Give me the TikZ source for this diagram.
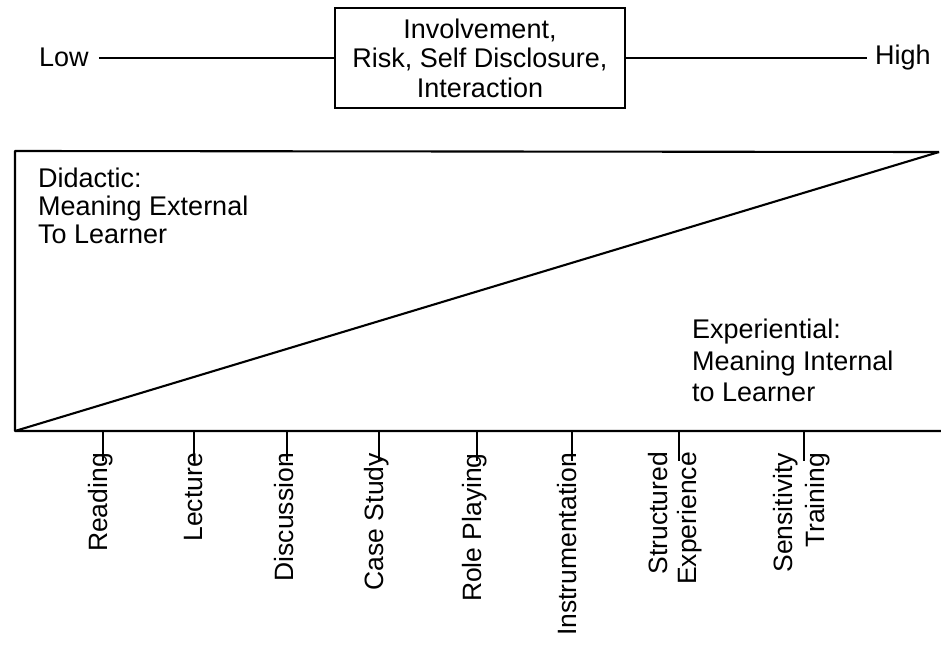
\documentclass[tikz,border=0pt]{standalone}
\usepackage{fontspec}
\setmainfont{Liberation Sans}
\begin{document}
\begin{tikzpicture}[x=1pt,y=-1pt,
  txt/.style={font=\fontsize{27}{29.5}\selectfont, inner sep=0pt},
  blocktxt/.style={font=\fontsize{27}{28}\selectfont, inner sep=0pt, align=left, anchor=north west},
  lbl/.style={font=\fontsize{26.5}{30}\selectfont, inner sep=0pt, rotate=90, anchor=base east},
  lbltwo/.style={font=\fontsize{26.5}{30}\selectfont, inner sep=0pt, rotate=90, anchor=east, align=right},
  heavy/.style={line width=2.1pt, line join=round},
  thin/.style={line width=1.6pt},
  tickline/.style={line width=1.6pt}]
\useasboundingbox (0,0) rectangle (941,655);

% scale of involvement across the top
\node[txt, draw, thin, minimum width=290pt, minimum height=100pt, align=center] (scale) at (480,58)
  {Involvement,\\Risk, Self Disclosure,\\Interaction};
\node[txt, anchor=base west] (low) at (39,67) {Low};
\node[txt, anchor=base west] (high) at (875,65) {High};
\draw[heavy] (low.east |- scale.west) ++(10,0) -- (scale.west);
\draw[heavy] (scale.east) -- ([xshift=-8pt]high.west |- scale.east);

% wedge between didactic and experiential
\coordinate (origin) at (15,431);
\coordinate (topleft) at (15,151);
\coordinate (tip) at (939,152);
\coordinate (axisend) at (941,431);
\draw[heavy] (tip) -- (topleft) -- (origin) -- (axisend);
\draw[heavy] (origin) -- (tip);

\node[blocktxt] (didactic) at (38,168) {Didactic:\\Meaning External\\To Learner};
\node[blocktxt, font=\fontsize{27}{31.5}\selectfont] (experiential) at (692,319)
  {Experiential:\\Meaning Internal\\to Learner};

% methods along the axis
\foreach \n/\x in {1/103,2/194,3/287,4/379,5/477,6/572,7/679,8/804}{
  \coordinate (t\n) at (\x,461);
  \draw[tickline] (t\n |- origin) -- (t\n);
}
\node[lbl] (m1) at ([xshift=4pt,yshift=8pt]t1) {Reading};
\node[lbl] (m2) at ([xshift=8pt,yshift=8pt]t2) {Lecture};
\node[lbl] (m3) at ([xshift=6pt,yshift=8pt]t3) {Discussion};
\node[lbl] (m4) at ([xshift=4pt,yshift=8pt]t4) {Case Study};
\node[lbl] (m5) at ([xshift=4pt,yshift=8pt]t5) {Role Playing};
\node[lbl] (m6) at ([xshift=4pt,yshift=8pt]t6) {Instrumentation};
\node[lbltwo, font=\fontsize{26.5}{29}\selectfont] (m7) at ([xshift=-4pt,yshift=9pt]t7) {Structured\\Experience};
\node[lbltwo, font=\fontsize{26.5}{32}\selectfont] (m8) at ([xshift=-2pt,yshift=8pt]t8) {Sensitivity\\Training};
\end{tikzpicture}
\end{document}
